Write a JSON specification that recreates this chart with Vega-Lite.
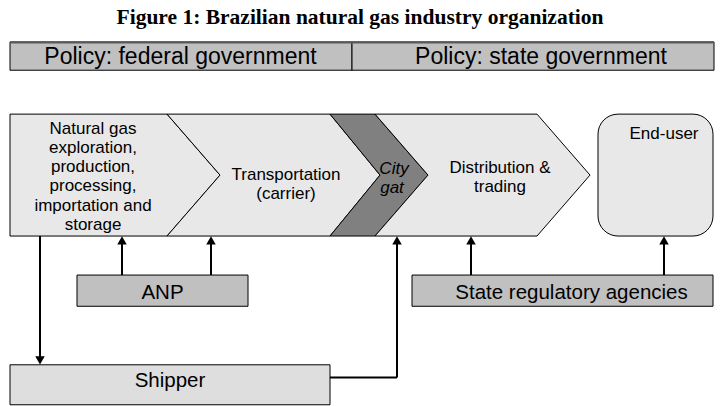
{
  "$schema": "https://vega.github.io/schema/vega-lite/v6.json",
  "width": 720,
  "height": 406,
  "padding": 0,
  "autosize": {"type": "fit", "contains": "padding"},
  "background": "white",
  "config": {"view": {"stroke": null}, "axis": {"disable": true}},
  "resolve": {"scale": {"fill": "independent", "shape": "independent"}},
  "datasets": {
    "boxes": [
      {"name": "Policy: federal government", "kind": "policy", "x": 10, "x2": 352, "y": 43, "y2": 72},
      {"name": "Policy: state government", "kind": "policy", "x": 352, "x2": 714, "y": 43, "y2": 72},
      {"name": "ANP", "kind": "agency", "x": 77, "x2": 248, "y": 282, "y2": 314},
      {"name": "State regulatory agencies", "kind": "agency", "x": 412, "x2": 713, "y": 282, "y2": 314},
      {"name": "Shipper", "kind": "shipper", "x": 10, "x2": 330, "y": 374, "y2": 415}
    ],
    "policytop": [
      {"x": 10, "x2": 714, "y": 43.5, "y2": 43.5}
    ],
    "enduser": [
      {"name": "End-user", "x": 598, "x2": 713, "y": 117, "y2": 242}
    ],
    "chevrons": [
      {"shape": "upstream", "kind": "stage", "y": 117, "x": 10, "x2": 167},
      {"shape": "upstream", "kind": "stage", "y": 179.5, "x": 10, "x2": 220},
      {"shape": "upstream", "kind": "stage", "y": 242, "x": 10, "x2": 167},
      {"shape": "transport", "kind": "stage", "y": 117, "x": 167, "x2": 330},
      {"shape": "transport", "kind": "stage", "y": 179.5, "x": 220, "x2": 380},
      {"shape": "transport", "kind": "stage", "y": 242, "x": 167, "x2": 330},
      {"shape": "citygate", "kind": "gate", "y": 117, "x": 330, "x2": 375},
      {"shape": "citygate", "kind": "gate", "y": 179.5, "x": 380, "x2": 428},
      {"shape": "citygate", "kind": "gate", "y": 242, "x": 330, "x2": 375},
      {"shape": "distribution", "kind": "stage", "y": 117, "x": 375, "x2": 537},
      {"shape": "distribution", "kind": "stage", "y": 179.5, "x": 428, "x2": 590},
      {"shape": "distribution", "kind": "stage", "y": 242, "x": 375, "x2": 537}
    ],
    "links": [
      {"x": 40, "x2": 40, "y": 242, "y2": 367},
      {"x": 122, "x2": 122, "y": 249, "y2": 282},
      {"x": 211, "x2": 211, "y": 249, "y2": 282},
      {"x": 471, "x2": 471, "y": 249, "y2": 282},
      {"x": 664, "x2": 664, "y": 249, "y2": 282},
      {"x": 330, "x2": 397, "y": 387, "y2": 387},
      {"x": 397, "x2": 397, "y": 249, "y2": 387}
    ],
    "heads": [
      {"x": 40, "y": 369.5, "dir": "down"},
      {"x": 122, "y": 246.5, "dir": "up"},
      {"x": 211, "y": 246.5, "dir": "up"},
      {"x": 397, "y": 246.5, "dir": "up"},
      {"x": 471, "y": 246.5, "dir": "up"},
      {"x": 664, "y": 246.5, "dir": "up"}
    ],
    "policylabels": [
      {"text": "Policy: federal government", "x": 180.5, "y": 58},
      {"text": "Policy: state government", "x": 541, "y": 58}
    ],
    "boxlabels": [
      {"text": "ANP", "x": 162.5, "y": 300},
      {"text": "State regulatory agencies", "x": 571.5, "y": 300},
      {"text": "Shipper", "x": 170, "y": 391}
    ],
    "stagelabels": [
      {"text": "Natural gas", "x": 93, "y": 132},
      {"text": "exploration,", "x": 93, "y": 151.5},
      {"text": "production,", "x": 93, "y": 171},
      {"text": "processing,", "x": 93, "y": 191},
      {"text": "importation and", "x": 93, "y": 211},
      {"text": "storage", "x": 93, "y": 231},
      {"text": "Transportation", "x": 286, "y": 179},
      {"text": "(carrier)", "x": 286, "y": 199},
      {"text": "Distribution &", "x": 500, "y": 172},
      {"text": "trading", "x": 500, "y": 192},
      {"text": "End-user", "x": 664, "y": 137}
    ],
    "italiclabels": [
      {"text": "City", "x": 394, "y": 173},
      {"text": "gat", "x": 392, "y": 193}
    ],
    "titles": [
      {"text": "Figure 1: Brazilian natural gas industry organization", "x": 360, "y": 25}
    ]
  },
  "layer": [
    {
      "data": {"name": "boxes"},
      "mark": {"type": "rect", "stroke": "black", "strokeWidth": 1},
      "encoding": {
        "x": {"field": "x", "type": "quantitative", "scale": {"domain": [0, 720], "nice": false, "zero": false}},
        "x2": {"field": "x2"},
        "y": {"field": "y", "type": "quantitative", "scale": {"domain": [0, 406], "nice": false, "zero": false, "reverse": true}},
        "y2": {"field": "y2"},
        "fill": {"field": "kind", "type": "nominal", "scale": {"domain": ["policy", "agency", "shipper"], "range": ["#c0c0c0", "#c0c0c0", "#dedede"]}, "legend": null}
      }
    },
    {
      "data": {"name": "policytop"},
      "mark": {"type": "rule", "color": "#5a5a5a", "strokeWidth": 2},
      "encoding": {
        "x": {"field": "x", "type": "quantitative"},
        "x2": {"field": "x2"},
        "y": {"field": "y", "type": "quantitative"},
        "y2": {"field": "y2"}
      }
    },
    {
      "data": {"name": "enduser"},
      "mark": {"type": "rect", "stroke": "black", "strokeWidth": 1, "fill": "#e8e8e8", "cornerRadius": 20},
      "encoding": {
        "x": {"field": "x", "type": "quantitative"},
        "x2": {"field": "x2"},
        "y": {"field": "y", "type": "quantitative"},
        "y2": {"field": "y2"}
      }
    },
    {
      "data": {"name": "chevrons"},
      "mark": {"type": "area", "orient": "horizontal", "stroke": "black", "strokeWidth": 1, "opacity": 1, "fillOpacity": 1},
      "encoding": {
        "y": {"field": "y", "type": "quantitative"},
        "x": {"field": "x", "type": "quantitative"},
        "x2": {"field": "x2"},
        "detail": {"field": "shape", "type": "nominal"},
        "fill": {"field": "kind", "type": "nominal", "scale": {"domain": ["stage", "gate"], "range": ["#e8e8e8", "#808080"]}, "legend": null}
      }
    },
    {
      "data": {"name": "links"},
      "mark": {"type": "rule", "color": "black", "strokeWidth": 2},
      "encoding": {
        "x": {"field": "x", "type": "quantitative"},
        "x2": {"field": "x2"},
        "y": {"field": "y", "type": "quantitative"},
        "y2": {"field": "y2"}
      }
    },
    {
      "data": {"name": "heads"},
      "mark": {"type": "point", "filled": true, "fill": "black", "opacity": 1, "size": 90, "strokeWidth": 0},
      "encoding": {
        "x": {"field": "x", "type": "quantitative"},
        "y": {"field": "y", "type": "quantitative"},
        "shape": {"field": "dir", "type": "nominal", "scale": {"domain": ["up", "down"], "range": ["triangle-up", "triangle-down"]}, "legend": null}
      }
    },
    {
      "data": {"name": "policylabels"},
      "mark": {"type": "text", "font": "Liberation Sans", "fontSize": 23, "color": "black", "align": "center", "baseline": "middle"},
      "encoding": {
        "x": {"field": "x", "type": "quantitative"},
        "y": {"field": "y", "type": "quantitative"},
        "text": {"field": "text"}
      }
    },
    {
      "data": {"name": "boxlabels"},
      "mark": {"type": "text", "font": "Liberation Sans", "fontSize": 20.5, "color": "black", "align": "center", "baseline": "middle"},
      "encoding": {
        "x": {"field": "x", "type": "quantitative"},
        "y": {"field": "y", "type": "quantitative"},
        "text": {"field": "text"}
      }
    },
    {
      "data": {"name": "stagelabels"},
      "mark": {"type": "text", "font": "Liberation Sans", "fontSize": 17, "color": "black", "align": "center", "baseline": "middle"},
      "encoding": {
        "x": {"field": "x", "type": "quantitative"},
        "y": {"field": "y", "type": "quantitative"},
        "text": {"field": "text"}
      }
    },
    {
      "data": {"name": "italiclabels"},
      "mark": {"type": "text", "font": "Liberation Sans", "fontSize": 17, "fontStyle": "italic", "color": "black", "align": "center", "baseline": "middle"},
      "encoding": {
        "x": {"field": "x", "type": "quantitative"},
        "y": {"field": "y", "type": "quantitative"},
        "text": {"field": "text"}
      }
    },
    {
      "data": {"name": "titles"},
      "mark": {"type": "text", "font": "Liberation Serif", "fontSize": 21.5, "fontWeight": "bold", "color": "black", "align": "center", "baseline": "alphabetic"},
      "encoding": {
        "x": {"field": "x", "type": "quantitative"},
        "y": {"field": "y", "type": "quantitative"},
        "text": {"field": "text"}
      }
    }
  ]
}
